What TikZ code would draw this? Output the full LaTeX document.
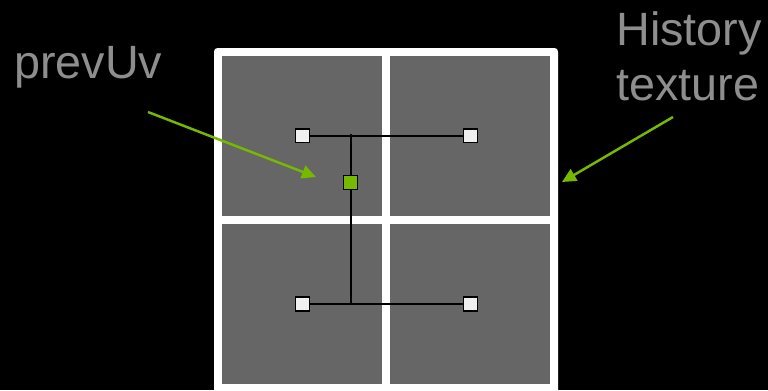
\documentclass[tikz,border=0pt]{standalone}
\usepackage{fontspec}
\setmainfont{Liberation Sans}
\usepackage{tikz}
\usepackage{xcolor}
\usetikzlibrary{arrows.meta, positioning}

\definecolor{nvgreen}{HTML}{76B900}
\definecolor{cellgray}{HTML}{666666}
\definecolor{labelgray}{HTML}{8E8E8E}

\begin{document}
\begin{tikzpicture}[x=0.02cm, y=-0.02cm, >={Triangle[length=8pt, width=7.5pt]},
    texel/.style={draw=black, line width=0.9pt, fill=white!94!black, minimum size=0.28cm, inner sep=0pt},
    sample/.style={texel, fill=nvgreen},
    pointer/.style={->, nvgreen, line width=1.4pt},
    tap/.style={black, line width=1.1pt},
    label/.style={text=labelgray, font=\fontsize{26.6}{31.3}\selectfont, inner sep=0pt}]
    \fill[black] (0, 0) rectangle (768, 390);
    \useasboundingbox (0, 0) rectangle (768, 390);

    % history texture, 2x2 texels
    \fill[white, rounded corners=2pt] (214, 48) rectangle (558, 396);
    \fill[cellgray] (222, 56) rectangle (382, 216);
    \fill[cellgray] (390, 56) rectangle (550, 216);
    \fill[cellgray] (222, 224) rectangle (382, 384);
    \fill[cellgray] (390, 224) rectangle (550, 384);

    % bilinear taps
    \coordinate (top) at (350.7, 133.5);
    \coordinate (bot) at (350.7, 304);
    \node[texel] (tl) at (302.3, 135.7) {};
    \node[texel] (tr) at (470.3, 135.7) {};
    \node[texel] (bl) at (302.3, 304) {};
    \node[texel] (br) at (470.3, 304) {};
    \draw[tap] (tl) -- (tr);
    \draw[tap] (bl) -- (br);
    \draw[tap] (top) -- (bot);
    \node[sample] (prev) at (350.7, 182.3) {};

    % labels
    \node[label, anchor=base west] (uvlabel) at (14, 78.3) {prevUv};
    \node[label, anchor=north west, align=left] (histlabel) at (616, 11.7) {History\\texture};
    \coordinate (uvtail) at (148, 112);
    \coordinate (uvtip) at (316, 177);
    \coordinate (histtail) at (673, 117);
    \coordinate (histtip) at (562, 182);
    \draw[pointer] (uvtail) -- (uvtip);
    \draw[pointer] (histtail) -- (histtip);
\end{tikzpicture}
\end{document}
